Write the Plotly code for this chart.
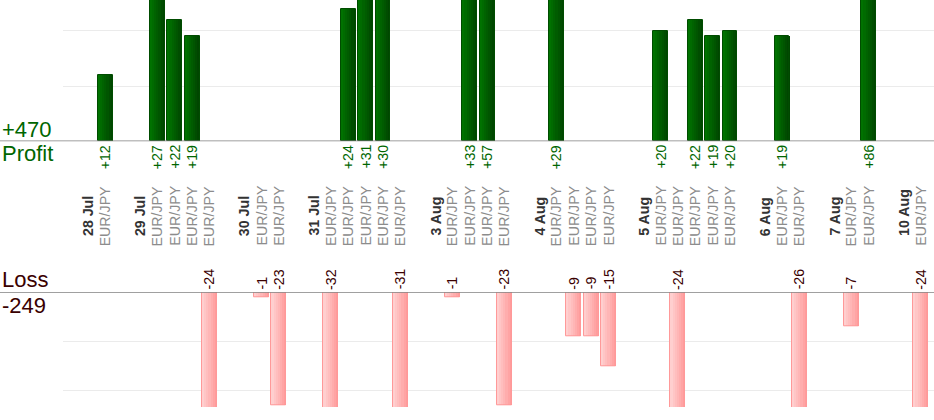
import plotly.graph_objects as go

# ── Data ───────────────────────────────────────────────────────────────────────
PAIR = "EUR/JPY"
DAYS = ["28 Jul", "29 Jul", "30 Jul", "31 Jul", "3 Aug",
        "4 Aug", "5 Aug", "6 Aug", "7 Aug", "10 Aug"]
# profit / loss of each trade, per day, in order
TRADES = [
    [12],
    [27, 22, 19, -24],
    [-1, -23],
    [-32, 24, 31, 30, -31],
    [-1, 33, 57, -23],
    [29, -9, -9, -15],
    [20, -24, 22, 19, 20],
    [19, -26],
    [-7, 86],
    [-24],
]

# ── Layout helpers (pixels of the 934x420 page) ────────────────────────────────
W, H = 934, 420
FONT = "Liberation Sans, Arial, sans-serif"
GREEN = "#006600"
MAROON = "#3a0000"
LBL = 14.2
BAR_W = 0.86
N_STRIPS = 7


def py(p):
    return 1 - p / H


def blend(c0, c1, t):
    a = [int(c0[i:i + 2], 16) for i in (1, 3, 5)]
    b = [int(c1[i:i + 2], 16) for i in (1, 3, 5)]
    return "#" + "".join(f"{round(x + (y - x) * t):02x}" for x, y in zip(a, b))


# build slots: a date column, then one column per trade, then an empty column
date_slots, trade_slots, trade_vals = [], [], []
s = 0
for day, trades in zip(DAYS, TRADES):
    date_slots.append((s, day))
    s += 1
    for v in trades:
        trade_slots.append(s)
        trade_vals.append(v)
        s += 1
    s += 1

profit_y = [v if v > 0 else None for v in trade_vals]
loss_y = [v if v < 0 else None for v in trade_vals]
total_profit = sum(v for v in trade_vals if v > 0)
total_loss = sum(v for v in trade_vals if v < 0)

fig = go.Figure()
# horizontal gradient on the bars: thin vertical strips, then an outline on top
sw = BAR_W / N_STRIPS
for vals, ax, c0, c1, edge in [(profit_y, "y", "#007200", "#004600", "#004c00"),
                               (loss_y, "y2", "#ffcfcf", "#ff9c9c", "#ff9999")]:
    for k in range(N_STRIPS):
        fig.add_trace(go.Bar(
            x=trade_slots, y=vals, width=sw * 1.02, offset=-BAR_W / 2 + k * sw, yaxis=ax,
            marker=dict(color=blend(c0, c1, k / (N_STRIPS - 1)), line=dict(width=0)),
            hoverinfo="skip", showlegend=False,
        ))
    fig.add_trace(go.Bar(
        x=trade_slots, y=vals, width=BAR_W, offset=-BAR_W / 2, yaxis=ax,
        marker=dict(color="rgba(0,0,0,0)", line=dict(color=edge, width=1)),
        hoverinfo="skip", showlegend=False,
    ))

ann = []
for x, day in date_slots:
    ann.append(dict(x=x, y=py(238), xref="x", yref="paper", text=f"<b>{day}</b>",
                    textangle=-90, xanchor="center", yanchor="bottom", showarrow=False,
                    font=dict(family=FONT, size=LBL, color="#333333")))
for x, v in zip(trade_slots, trade_vals):
    ann.append(dict(x=x, y=py(248), xref="x", yref="paper", text=PAIR,
                    textangle=-90, xanchor="center", yanchor="bottom", showarrow=False,
                    font=dict(family=FONT, size=LBL, color="#8c8c8c")))
    if v > 0:
        ann.append(dict(x=x, y=py(143), xref="x", yref="paper", text=f"+{v}",
                        textangle=-90, xanchor="center", yanchor="top", showarrow=False,
                        font=dict(family=FONT, size=LBL, color=GREEN)))
    else:
        ann.append(dict(x=x, y=py(291.5), xref="x", yref="paper", text=f"{v}",
                        textangle=-90, xanchor="center", yanchor="bottom", showarrow=False,
                        font=dict(family=FONT, size=LBL, color=MAROON)))

for txt, ypx, col in [(f"+{total_profit}", 129, GREEN), ("Profit", 153, GREEN),
                      ("Loss", 279, MAROON), (f"{total_loss}", 305, MAROON)]:
    ann.append(dict(x=0, y=py(ypx), xref="paper", yref="paper", text=txt,
                    xanchor="left", yanchor="middle", showarrow=False,
                    font=dict(family=FONT, size=22, color=col)))

# baselines across the whole width
shapes = [
    dict(type="line", xref="paper", x0=0, x1=1, yref="y", y0=0, y1=0,
         line=dict(color="#808080", width=1.5)),
    dict(type="line", xref="paper", x0=0, x1=1, yref="y2", y0=0, y1=0,
         line=dict(color="#808080", width=1.5)),
]

grid = dict(dtick=10, tick0=0, showgrid=True, gridcolor="#ebebeb", gridwidth=1,
            showticklabels=False, ticks="", zeroline=False, showline=False, fixedrange=True)

fig.update_layout(
    width=W, height=H,
    margin=dict(l=0, r=0, t=0, b=0),
    paper_bgcolor="white", plot_bgcolor="white",
    xaxis=dict(domain=[63 / W, 1], range=[-1.441, 48.76], visible=False, fixedrange=True),
    yaxis=dict(domain=[py(141.3), 1], range=[0, 25.6], **grid),
    yaxis2=dict(domain=[py(407), py(292.3)], range=[-23.3, 0], anchor="x", **grid),
    annotations=ann, shapes=shapes,
    barmode="overlay", bargap=0,
)

# drop the browser's default body margin so the chart sits at the page corner
fig.write_html("out.html", config={"displayModeBar": False},
               post_script="document.body.style.margin='0';document.body.style.overflow='hidden';")
